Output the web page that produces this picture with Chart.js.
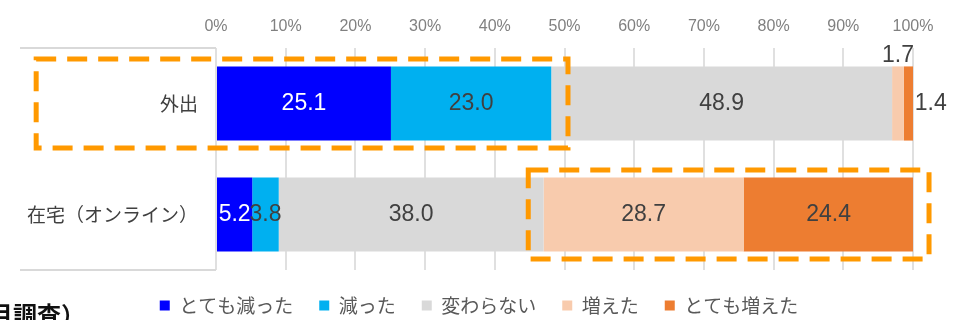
<!DOCTYPE html>
<html lang="ja">
<head>
<meta charset="utf-8">
<title>外出・在宅の変化</title>
<script src="https://cdn.jsdelivr.net/npm/chart.js@4.4.0/dist/chart.umd.min.js"></script>
<style>
  html, body { margin: 0; padding: 0; background: #fff; }
  #wrap { position: relative; width: 958px; height: 320px; overflow: hidden; }
  #note {
    position: absolute; left: -11px; top: 302px;
    font: bold 24px/1 'Noto Sans CJK JP', sans-serif;
    color: #111; white-space: nowrap;
  }
</style>
</head>
<body>
<div id="wrap">
  <canvas id="chart" width="958" height="320"></canvas>
  <div id="note">月調査）</div>
</div>
<script>
// Categories (rows) and the five answer groups, in percent
const categories = ['外出', '在宅（オンライン）'];
const seriesNames = ['とても減った', '減った', '変わらない', '増えた', 'とても増えた'];
const veryDecreased = [25.1, 5.2];
const decreased = [23.0, 3.8];
const unchanged = [48.9, 38.0];
const increased = [1.7, 28.7];
const veryIncreased = [1.4, 24.4];
const tickLabels = ['0%', '10%', '20%', '30%', '40%', '50%', '60%', '70%', '80%', '90%', '100%'];

const COLORS = ['#0000FF', '#00B0F0', '#D9D9D9', '#F8CBAD', '#ED7D31'];
const LABEL_COLORS = ['#FFFFFF', '#404040', '#404040', '#404040', '#404040'];

// Orange dashed frames, in axis units (row index, percent from/to)
const highlights = [
  { row: 0, from: -25.8, to: 50.5 },
  { row: 1, from: 44.8, to: 102.3 },
];

const LATIN = "'Liberation Sans', 'Noto Sans CJK JP', sans-serif";
const JP = "'Noto Sans CJK JP', sans-serif";

// Fix the legend strip height so the plot area ends where we want it
const legendHeight = {
  id: 'legendHeight',
  beforeInit(chart) {
    const fit = chart.legend.fit;
    chart.legend.fit = function () {
      fit.call(this);
      this.height = 50;
    };
  }
};

// Value labels: centred in each segment, tiny segments get theirs outside
const valueLabels = {
  id: 'valueLabels',
  afterDatasetsDraw(chart) {
    const ctx = chart.ctx;
    ctx.save();
    ctx.font = '23px ' + LATIN;
    chart.data.datasets.forEach((ds, di) => {
      const meta = chart.getDatasetMeta(di);
      meta.data.forEach((bar, i) => {
        const v = ds.data[i];
        const text = v.toFixed(1);
        ctx.fillStyle = LABEL_COLORS[di];
        if (v < 2 && di === 3) {
          // above the bar
          ctx.textAlign = 'center';
          ctx.textBaseline = 'alphabetic';
          ctx.fillText(text, (bar.x + bar.base) / 2, bar.y - bar.height / 2 - 4);
        } else if (v < 2) {
          // right of the bar end
          ctx.textAlign = 'left';
          ctx.textBaseline = 'middle';
          ctx.fillText(text, bar.x + 1, bar.y);
        } else {
          ctx.textAlign = 'center';
          ctx.textBaseline = 'middle';
          ctx.fillText(text, (bar.x + bar.base) / 2, bar.y);
        }
      });
    });
    ctx.restore();
  }
};

// Rules above and below the category labels, plus the dashed highlight frames
const decorations = {
  id: 'decorations',
  afterDraw(chart) {
    const ctx = chart.ctx;
    const area = chart.chartArea;
    const xs = chart.scales.x;
    const ys = chart.scales.y;
    ctx.save();
    ctx.strokeStyle = '#D9D9D9';
    ctx.lineWidth = 2;
    ctx.beginPath();
    [area.top, area.bottom].forEach(y => {
      ctx.moveTo(20, y);
      ctx.lineTo(area.left, y);
    });
    ctx.stroke();

    const rowH = ys.getPixelForValue(1) - ys.getPixelForValue(0);
    ctx.strokeStyle = '#FF9900';
    ctx.lineWidth = 5;
    ctx.setLineDash([20, 11]);
    highlights.forEach(h => {
      const x0 = xs.getPixelForValue(h.from);
      const x1 = xs.getPixelForValue(h.to);
      const yc = ys.getPixelForValue(h.row);
      ctx.strokeRect(x0, yc - rowH * 0.4, x1 - x0, rowH * 0.8);
    });
    ctx.restore();
  }
};

const seriesValues = [veryDecreased, decreased, unchanged, increased, veryIncreased];
const datasets = seriesNames.map((name, i) => ({
  label: name,
  data: seriesValues[i],
  backgroundColor: COLORS[i],
  borderWidth: 0,
  categoryPercentage: 0.8,
  barPercentage: 0.835
}));

const ctx = document.getElementById('chart').getContext('2d');
new Chart(ctx, {
  type: 'bar',
  data: { labels: categories, datasets: datasets },
  options: {
    indexAxis: 'y',
    responsive: false,
    animation: false,
    layout: { padding: 0 },
    plugins: {
      legend: {
        position: 'bottom',
        labels: {
          boxWidth: 10,
          boxHeight: 10,
          padding: 26,
          color: '#595959',
          font: { family: JP, size: 19 }
        }
      },
      tooltip: { enabled: false }
    },
    scales: {
      x: {
        position: 'top',
        stacked: true,
        min: 0,
        max: 100,
        ticks: {
          stepSize: 10,
          padding: 12,
          color: '#808080',
          font: { family: LATIN, size: 16 },
          callback: (v, i) => tickLabels[i]
        },
        grid: { color: '#E0E0E0', lineWidth: 2, drawTicks: false },
        border: { display: false },
        afterFit: (scale) => {
          scale.height = 48;
          scale.paddingRight = 45;
        }
      },
      y: {
        stacked: true,
        ticks: {
          padding: 18,
          color: '#404040',
          font: { family: JP, size: 19 }
        },
        grid: { display: false, drawTicks: false },
        border: { display: false },
        afterFit: (scale) => { scale.width = 216; }
      }
    }
  },
  plugins: [legendHeight, valueLabels, decorations]
});
</script>
</body>
</html>
